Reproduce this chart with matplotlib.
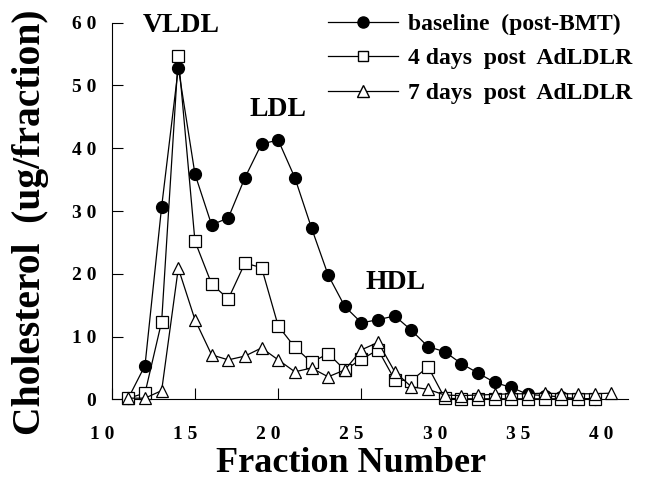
import numpy as np
import matplotlib.pyplot as plt
from matplotlib.lines import Line2D
import matplotlib.transforms as mtransforms

plt.rcParams['font.family'] = ['Liberation Serif', 'DejaVu Serif']
plt.rcParams['font.weight'] = 'bold'
plt.rcParams['axes.labelweight'] = 'bold'

# fracciones y colesterol (ug/fraccion)
frac_base = np.arange(11, 40)
baseline = [0.2, 5.4, 30.7, 52.8, 35.9, 27.8, 28.9, 35.3, 40.7, 41.3,
            35.3, 27.3, 19.8, 14.8, 12.2, 12.7, 13.3, 11.0, 8.4, 7.6,
            5.7, 4.2, 2.7, 1.9, 0.8, 0.6, 0.4, 0.1, 0.1]

frac_4d = np.arange(11, 40)
dias4 = [0.2, 1.0, 12.4, 54.7, 25.2, 18.4, 16.0, 21.7, 21.0, 11.7,
         8.3, 5.9, 7.3, 4.7, 6.4, 7.9, 3.1, 3.0, 5.2, 0.2,
         0.1, 0.1, 0.1, 0.1, 0.1, 0.1, 0.1, 0.1, 0.1]

frac_7d = np.arange(11, 41)
dias7 = [0.2, 0.2, 1.4, 20.9, 12.7, 7.1, 6.3, 6.9, 8.2, 6.3,
         4.4, 5.0, 3.6, 4.7, 7.9, 9.1, 4.4, 2.0, 1.6, 0.7,
         0.6, 0.7, 0.8, 0.9, 0.9, 1.0, 0.9, 0.9, 0.9, 1.0]

series_labels = ["baseline  (post-BMT)", "4 days  post  AdLDLR", "7 days  post  AdLDLR"]

xticks = [10, 15, 20, 25, 30, 35, 40]
yticks = [0, 10, 20, 30, 40, 50, 60]

fig = plt.figure(figsize=(6.46, 4.78), dpi=100)
ax = fig.add_axes([0.1729, 0.1644, 0.7991, 0.7881])

lw = 0.9
ax.plot(frac_base, baseline, '-o', color='black', lw=lw, ms=8.5,
        mfc='black', mec='black', zorder=3, clip_on=False)
ax.plot(frac_4d, dias4, '-s', color='black', lw=lw, ms=8,
        mfc='white', mec='black', mew=0.9, zorder=4, clip_on=False)
ax.plot(frac_7d, dias7, '-^', color='black', lw=lw, ms=9,
        mfc='white', mec='black', mew=0.9, zorder=5, clip_on=False)

ax.set_xlim(10, 41)
ax.set_ylim(0, 60)
ax.spines['top'].set_visible(False)
ax.spines['right'].set_visible(False)
ax.spines['left'].set_linewidth(0.8)
ax.spines['bottom'].set_linewidth(0.8)

ax.set_xticks(xticks)
ax.set_xticklabels([" ".join(str(v)) for v in xticks])
ax.set_yticks(yticks)
ax.set_yticklabels([" ".join(str(v)) for v in yticks])
ax.tick_params(direction='in', length=8, width=0.8, labelsize=14)
ax.tick_params(axis='x', pad=19)
ax.tick_params(axis='y', pad=11)

# etiquetas del eje x corridas a la izquierda, como en el original
offset = mtransforms.ScaledTranslation(-0.10, 0, fig.dpi_scale_trans)
for lab in ax.get_xticklabels():
    lab.set_transform(lab.get_transform() + offset)

ax.set_xlabel("Fraction Number", fontsize=26, fontweight='bold')
ax.xaxis.set_label_coords(0.4635, -0.125)
ax.set_ylabel("Cholesterol  (ug/fraction)", fontsize=28.5, fontweight='bold',
              va='center', ha='center')
ax.yaxis.set_label_coords(-0.158, 0.471)

ax.text(14.16, 59.5, "VLDL", fontsize=20, ha='center', va='center')
ax.text(20.0, 46.2, "LDL", fontsize=20, ha='center', va='center')
ax.text(27.05, 18.6, "HDL", fontsize=20, ha='center', va='center')

handles = [
    Line2D([], [], color='black', lw=lw, marker='o', ms=8, mfc='black'),
    Line2D([], [], color='black', lw=lw, marker='s', ms=7.5, mfc='white'),
    Line2D([], [], color='black', lw=lw, marker='^', ms=8, mfc='white'),
]
ax.legend(handles, series_labels, loc='upper left',
          bbox_to_anchor=(0.4, 1.05), frameon=False, fontsize=17,
          handlelength=3.0, handletextpad=0.4, labelspacing=0.55,
          borderaxespad=0)

plt.savefig("out.png", dpi=100)
